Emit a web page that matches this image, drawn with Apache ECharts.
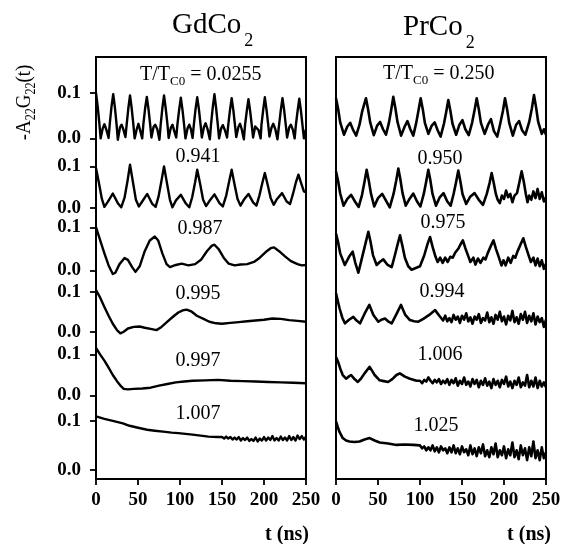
<!DOCTYPE html>
<html><head><meta charset="utf-8">
<script src="https://cdn.jsdelivr.net/npm/echarts@6/dist/echarts.min.js"></script>
<style>html,body{margin:0;padding:0;background:#fff}#c{width:569px;height:544px}</style>
</head><body><div id="c"></div>
<script>
// ---------------- data ----------------
const xTicks = [0, 50, 100, 150, 200, 250];
const yTickLabels = ['0.0', '0.1'];
const gdLabels = ['0.0255', '0.941', '0.987', '0.995', '0.997', '1.007'];
const prLabels = ['0.250', '0.950', '0.975', '0.994', '1.006', '1.025'];

// GdCo2 curves: [t (ns), -A22G22(t)]
const gd0255 = [[0,0.1],[2,0.07],[4,0.033],[5.5,0.0],[8,0.022],[10,0.031],[12.5,0.018],[15,0.001],[16.5,0.034],[18.5,0.07],
[20.5,0.097],[22.5,0.068],[24.5,0.03],[26,-0.003],[28.5,0.024],[30.5,0.03],[32.5,0.02],[35,0.003],[36.5,0.03],[38.5,0.066],
[40.5,0.094],[42.5,0.066],[44.5,0.03],[46,0.0],[48.5,0.02],[50.5,0.032],[52.5,0.018],[55,0.0],[56.5,0.033],[58.5,0.066],
[60.5,0.091],[62.5,0.064],[64.5,0.03],[66,0.002],[68.5,0.025],[70.5,0.03],[73,0.02],[75.5,-0.003],[77,0.03],[79,0.066],
[81,0.094],[83,0.066],[85,0.032],[86.5,0.001],[89,0.023],[91,0.03],[93,0.017],[95.5,0.002],[97,0.032],[99,0.063],
[101,0.089],[103,0.062],[105,0.028],[106.5,0.0],[109,0.022],[111,0.03],[113,0.02],[115,0.001],[116.5,0.03],[118.5,0.064],
[120.5,0.09],[122.5,0.064],[124.5,0.03],[126,0.002],[128.5,0.025],[130.5,0.033],[133,0.019],[135.5,-0.002],[137,0.032],[139,0.068],
[141,0.097],[143,0.066],[145,0.03],[146.5,0.0],[149,0.022],[151,0.029],[153.5,0.018],[156,0.002],[157.5,0.03],[159.5,0.062],
[161.5,0.088],[163.5,0.062],[165.5,0.028],[167,0.003],[169.5,0.025],[171.5,0.032],[173.5,0.02],[176,-0.002],[177.5,0.03],[179.5,0.06],
[181.5,0.086],[183.5,0.06],[185.5,0.028],[187,0.002],[189.5,0.026],[191.5,0.03],[193.5,0.018],[196,0.0],[197,0.03],[199,0.062],
[201,0.09],[203,0.063],[205,0.03],[206.5,0.004],[209,0.024],[211,0.032],[213.5,0.02],[216,-0.002],[218,0.03],[220,0.062],
[222,0.088],[224,0.062],[226,0.028],[227.5,0.002],[230,0.024],[232,0.03],[234.5,0.018],[236.5,0.0],[238,0.03],[240,0.06],
[242,0.087],[244,0.06],[246,0.026],[247.5,0.0],[250,0.02]];
const gd0941 = [[0,0.096],[3.5,0.06],[7,0.022],[10,0.003],[14,0.015],[20,0.035],[26,0.012],[30,0.002],[34,0.025],[37.5,0.065],
[40.5,0.104],[44,0.062],[47.5,0.02],[51,0.004],[55,0.016],[61,0.034],[67,0.01],[71,0.003],[74.5,0.028],[78,0.066],
[81,0.1],[84.5,0.06],[88,0.02],[91,0.002],[95,0.018],[101,0.032],[107,0.011],[111,0.002],[114.5,0.026],[118,0.062],
[120.5,0.092],[124,0.058],[127.5,0.02],[131,0.005],[135,0.017],[141,0.033],[147,0.012],[151,0.004],[155,0.03],[158.5,0.064],
[161.5,0.092],[165,0.056],[168.5,0.022],[172,0.006],[176,0.02],[181.5,0.034],[187,0.014],[191,0.006],[194.5,0.03],[198,0.06],
[201,0.084],[204.5,0.055],[208,0.024],[211.5,0.008],[215.5,0.022],[221.5,0.036],[227,0.016],[231,0.01],[234.5,0.034],[238,0.062],
[241,0.08],[244.5,0.058],[247.5,0.04],[250,0.038]];
const gd0987 = [[0,0.101],[5,0.07],[10,0.04],[15,0.012],[20,-0.008],[23,-0.005],[28,0.015],[34,0.029],[38,0.025],[43,0.008],
[47,-0.003],[52,0.01],[58,0.045],[64,0.07],[70,0.079],[74,0.07],[79,0.04],[84,0.015],[88,0.008],[95,0.013],[102,0.016],
[110,0.012],[118,0.015],[125,0.025],[132,0.045],[138,0.058],[141,0.06],[146,0.05],[152,0.03],[158,0.016],[165,0.012],
[172,0.014],[180,0.015],[188,0.02],[195,0.03],[202,0.043],[208,0.052],[212,0.054],[218,0.045],[225,0.033],[232,0.022],
[240,0.015],[245,0.012],[250,0.013]];
const gd0995 = [[0,0.104],[5,0.085],[10,0.062],[15,0.04],[20,0.02],[25,0.004],[29,-0.004],[33,0.0],[38,0.008],[45,0.012],
[52,0.013],[58,0.01],[65,0.007],[72,0.004],[78,0.012],[85,0.025],[92,0.038],[98,0.048],[104,0.054],[108,0.055],[114,0.05],
[120,0.04],[128,0.032],[135,0.025],[143,0.021],[150,0.02],[160,0.022],[170,0.024],[180,0.026],[190,0.028],[200,0.03],
[210,0.033],[220,0.032],[230,0.029],[240,0.027],[250,0.025]];
const gd0997 = [[0,0.116],[5,0.1],[10,0.085],[15,0.068],[20,0.05],[25,0.035],[30,0.022],[33,0.016],[38,0.015],[45,0.016],
[55,0.017],[65,0.019],[75,0.024],[85,0.028],[95,0.032],[105,0.034],[115,0.036],[130,0.037],[145,0.038],[160,0.036],
[175,0.035],[190,0.034],[205,0.033],[220,0.032],[235,0.031],[250,0.03]];
const gd1007 = [[0,0.109],[10,0.104],[20,0.1],[32,0.095],[40,0.09],[50,0.086],[61,0.082],[70,0.08],[80,0.078],[90,0.076],
[98,0.075],[115,0.072],[134,0.068],[145,0.067],
[150,0.067],[152.5,0.064],[155,0.068],[157.5,0.064],[160,0.067],[162.5,0.062],[165,0.066],[167.5,0.062],[170,0.067],[172.5,0.06],
[175,0.065],[177.5,0.061],[180,0.066],[182.5,0.059],[185,0.063],[187.5,0.059],[190,0.066],[192.5,0.058],[195,0.064],[197.5,0.06],
[200,0.067],[202.5,0.06],[205,0.066],[207.5,0.061],[210,0.069],[212.5,0.06],[215,0.065],[217.5,0.06],[220,0.068],[222.5,0.061],
[225,0.066],[227.5,0.06],[230,0.069],[232.5,0.061],[235,0.067],[237.5,0.06],[240,0.07],[242.5,0.063],[245,0.069],[247.5,0.062],[250,0.068]];

// PrCo2 curves
const pr0250 = [[0,0.088],[2.5,0.065],[5,0.035],[9.5,0.008],[13.5,0.026],[17,0.034],[20.5,0.018],[24,0.006],[28,0.03],[31,0.058],
[35.7,0.088],[38.2,0.064],[40.7,0.035],[45,0.007],[49,0.028],[52.5,0.036],[56,0.02],[59.5,0.008],[63,0.034],[65.7,0.062],
[68.2,0.091],[70.7,0.066],[73.2,0.036],[77.5,0.006],[81.5,0.025],[85,0.038],[88.5,0.02],[92,0.006],[95.5,0.034],[98.3,0.062],
[100.8,0.088],[103.3,0.064],[105.8,0.034],[110,0.01],[114,0.028],[117.5,0.035],[121,0.018],[124.5,0.004],[128.5,0.032],[131.2,0.058],
[133.7,0.084],[136.2,0.06],[138.7,0.032],[143,0.008],[147,0.03],[150.5,0.04],[154,0.02],[158,0.007],[162,0.034],[165,0.062],
[167.5,0.088],[170,0.064],[172.5,0.034],[177,0.01],[181,0.03],[184.5,0.042],[188,0.016],[192,0.004],[195.5,0.032],[198.7,0.06],
[201.2,0.088],[203.7,0.064],[206.2,0.034],[210.5,0.006],[214.5,0.03],[218,0.038],[221.5,0.018],[225.5,0.008],[230,0.036],[233.2,0.066],
[235.7,0.095],[238.2,0.068],[240.7,0.036],[245,0.01],[247.5,0.02],[250,0.008]];
const pr0950 = [[0,0.088],[2.5,0.065],[5,0.035],[9,0.006],[13.5,0.022],[18,0.032],[22.5,0.016],[27,0.003],[31,0.032],[34,0.064],
[36.5,0.092],[39,0.066],[41.5,0.036],[45.5,0.004],[50,0.024],[55,0.034],[59.5,0.018],[64,0.002],[68.5,0.034],[71.7,0.066],
[74.2,0.095],[76.7,0.068],[79.2,0.036],[83,0.006],[87.5,0.022],[92,0.035],[96.5,0.016],[100.5,0.004],[104.5,0.034],[107.4,0.064],
[109.9,0.092],[112.4,0.066],[114.9,0.034],[119,0.006],[123.5,0.026],[128,0.036],[132.5,0.016],[136.5,0.006],[140,0.034],[143.1,0.064],
[145.6,0.09],[148.1,0.064],[150.6,0.034],[155,0.01],[160,0.028],[165,0.036],[170,0.02],[175,0.008],[179.5,0.034],[182.8,0.06],
[185.3,0.084],[187.8,0.06],[190.3,0.034],[192.5,0.02],[195,0.012],[197.5,0.03],[200,0.022],[202.5,0.042],[205,0.026],[207.5,0.034],
[210,0.014],[212.5,0.03],[215.5,0.036],[218.5,0.064],
[221,0.088],[223.5,0.064],[226,0.034],[228,0.014],[230,0.03],[232.5,0.02],[235,0.04],[237.5,0.024],[240,0.046],[242.5,0.022],
[245,0.038],[247.5,0.016],[250,0.026]];
const pr0975 = [[0,0.086],[2.5,0.066],[5,0.04],[10.5,0.013],[15.5,0.032],[19.8,0.044],[23,0.018],[26.6,-0.005],[31,0.03],[35.5,0.066],
[38.5,0.09],[41,0.068],[44,0.036],[48.4,0.013],[52,0.02],[56.3,0.026],[61,0.014],[66.3,0.008],[70,0.035],[73.5,0.062],
[76.2,0.082],[79,0.058],[82,0.03],[86,0.01],[90,0.002],[95,0.006],[100,0.01],[105,0.035],[109,0.062],
[112,0.078],[115,0.055],[118.5,0.032],[121,0.02],[124,0.03],[127,0.018],[130,0.03],[133,0.02],[136,0.032],[139,0.03],[142,0.042],[146,0.052],[148,0.06],
[151,0.07],[154,0.052],[157,0.036],[160,0.02],[163.5,0.03],[166,0.014],[169,0.028],[172,0.018],[175.5,0.03],[178,0.026],[180.5,0.04],[184.5,0.058],
[187.5,0.07],[190.5,0.05],[194,0.03],[197,0.012],[199.4,0.024],[202,0.012],[205,0.03],[208,0.018],[211,0.034],[213.5,0.03],[216,0.044],[220,0.062],
[223,0.075],[226,0.055],[229.5,0.034],[232,0.02],[235,0.03],[237.5,0.012],[240,0.028],[242.5,0.01],[245,0.024],[247.5,0.004],[250,0.016]];
const pr0994 = [[0,0.096],[2,0.078],[4.3,0.058],[7.5,0.035],[10.7,0.021],[15.5,0.03],[20.6,0.037],[24.5,0.028],[28.6,0.021],[34,0.045],
[39.7,0.067],[44.5,0.042],[50.4,0.025],[54,0.03],[58.3,0.033],[62,0.026],[66.3,0.021],[71.5,0.042],[77.4,0.067],
[82.5,0.042],[88,0.029],[93,0.026],[98,0.025],[104,0.032],[111,0.042],[118,0.054],[123,0.04],
[125,0.036],[127.5,0.028],[130,0.04],[132.5,0.026],[135,0.034],[137.5,0.024],[140,0.042],[142.5,0.03],[145,0.038],[147.5,0.022],
[150,0.04],[152.5,0.03],[155,0.046],[157.5,0.026],[160,0.036],[162.5,0.02],[165,0.038],[167.5,0.03],[170,0.044],[172.5,0.022],
[175,0.034],[177.5,0.028],[180,0.048],[182.5,0.024],[185,0.036],[187.5,0.02],[190,0.042],[192.5,0.03],[195,0.05],[197.5,0.026],
[200,0.038],[202.5,0.018],[205,0.04],[207.5,0.028],[210,0.052],[212.5,0.024],[215,0.036],[217.5,0.02],[220,0.044],[222.5,0.03],
[225,0.05],[227.5,0.022],[230,0.04],[232.5,0.026],[235,0.046],[237.5,0.018],[240,0.038],[242.5,0.024],[245,0.034],[247.5,0.012],[250,0.03]];
const pr1006 = [[0,0.094],[2.5,0.082],[5,0.066],[8,0.05],[12,0.041],[15,0.046],[18,0.05],[22,0.04],[26,0.033],[30,0.042],
[34,0.054],[40,0.07],[43,0.06],[46,0.05],[52,0.037],[57,0.035],[62,0.033],[67,0.04],[72,0.05],[76,0.054],[82,0.046],
[88,0.041],[96,0.036],
[100,0.036],[102.5,0.03],[105,0.038],[107.5,0.034],[110,0.044],[112.5,0.036],[115,0.03],[117.5,0.038],[120,0.032],[122.5,0.04],
[125,0.028],[127.5,0.036],[130,0.03],[132.5,0.04],[135,0.026],[137.5,0.038],[140,0.03],[142.5,0.042],[145,0.024],[147.5,0.036],
[150,0.028],[152.5,0.044],[155,0.026],[157.5,0.034],[160,0.022],[162.5,0.04],[165,0.028],[167.5,0.038],[170,0.02],[172.5,0.036],
[175,0.026],[177.5,0.042],[180,0.024],[182.5,0.034],[185,0.018],[187.5,0.04],[190,0.026],[192.5,0.036],[195,0.02],[197.5,0.038],
[200,0.028],[202.5,0.046],[205,0.022],[207.5,0.034],[210,0.018],[212.5,0.036],[215,0.026],[217.5,0.044],[220,0.02],[222.5,0.032],
[225,0.024],[227.5,0.05],[230,0.02],[232.5,0.036],[235,0.022],[237.5,0.044],[240,0.018],[242.5,0.036],[245,0.022],[247.5,0.032],[250,0.02]];
const pr1025 = [[0,0.099],[2,0.088],[4,0.078],[8,0.065],[12,0.06],[16,0.058],[22,0.057],[28,0.058],[34,0.062],[40,0.065],
[46,0.06],[52,0.056],[62,0.054],[72,0.051],[82,0.052],[92,0.051],
[100,0.05],[102.5,0.044],[105,0.048],[107.5,0.04],[110,0.046],[112.5,0.04],[115,0.05],[117.5,0.038],[120,0.046],[122.5,0.036],
[125,0.048],[127.5,0.04],[130,0.044],[132.5,0.034],[135,0.046],[137.5,0.036],[140,0.05],[142.5,0.034],[145,0.044],[147.5,0.032],
[150,0.048],[152.5,0.036],[155,0.042],[157.5,0.03],[160,0.05],[162.5,0.032],[165,0.044],[167.5,0.028],[170,0.046],[172.5,0.034],
[175,0.052],[177.5,0.028],[180,0.04],[182.5,0.026],[185,0.046],[187.5,0.032],[190,0.054],[192.5,0.026],[195,0.04],[197.5,0.03],
[200,0.048],[202.5,0.024],[205,0.042],[207.5,0.03],[210,0.056],[212.5,0.026],[215,0.04],[217.5,0.022],[220,0.05],[222.5,0.03],
[225,0.044],[227.5,0.02],[230,0.046],[232.5,0.028],[235,0.058],[237.5,0.024],[240,0.04],[242.5,0.02],[245,0.046],[247.5,0.024],[250,0.036]];

// ---------------- layout ----------------
const SERIF = '"Liberation Serif", "DejaVu Serif", serif';
const yMax = 0.98;
const base = [0.791, 0.629, 0.484, 0.342, 0.194, 0.021];   // stacking offsets (axis units)
const gain = [1.06, 0.97, 1.0, 0.93, 0.95, 1.14];           // per-curve vertical scale
const curvesGd = [gd0255, gd0941, gd0987, gd0995, gd0997, gd1007];
const curvesPr = [pr0250, pr0950, pr0975, pr0994, pr1006, pr1025];

function place(data, i) { return data.map(p => [p[0], base[i] + p[1] * gain[i]]); }
const tickVals = [];
base.forEach((b, i) => { tickVals.push(b); tickVals.push(b + 0.1 * gain[i]); });
function tickLabel(v) {
  let best = 0, bd = 1e9;
  tickVals.forEach((t, j) => { const d = Math.abs(t - v); if (d < bd) { bd = d; best = j; } });
  return yTickLabels[best % 2];
}

const ctx = document.createElement('canvas').getContext('2d');
function tw(text, size, weight) { ctx.font = (weight || 'normal') + ' ' + size + 'px ' + SERIF; return ctx.measureText(text).width; }
function txt(x, y, text, size, weight, align) {
  return { type: 'text', x: x, y: y, silent: true, z: 10,
    style: { text: text, fontSize: size, fontFamily: SERIF, fontWeight: weight || 'normal', fill: '#000',
      align: align || 'center', verticalAlign: 'middle', textAlign: align || 'center', textVerticalAlign: 'middle' } };
}

const grids = [
  { left: 96, top: 57, width: 210, height: 422 },
  { left: 336, top: 57, width: 210, height: 422 }
].map(g => Object.assign(g, { show: true, borderColor: '#000', borderWidth: 2, backgroundColor: 'transparent', containLabel: false }));

function xAx(gi) {
  return { type: 'value', gridIndex: gi, min: 0, max: 250, interval: 50,
    axisLine: { lineStyle: { color: '#000', width: 2 } },
    axisTick: { inside: false, length: 6, lineStyle: { color: '#000', width: 1.8 } },
    axisLabel: { color: '#000', fontSize: 19, fontWeight: 'bold', fontFamily: SERIF, margin: 12,
      customValues: xTicks, formatter: v => String(v) },
    splitLine: { show: false } };
}
const yAxes = [
  { type: 'value', gridIndex: 0, min: 0, max: yMax,
    axisLine: { show: true, lineStyle: { color: '#000', width: 2 } },
    axisTick: { show: true, length: 6, customValues: tickVals, lineStyle: { color: '#000', width: 1.8 } },
    axisLabel: { show: true, customValues: tickVals, formatter: tickLabel, color: '#000', fontSize: 19,
      fontWeight: 'bold', fontFamily: SERIF, margin: 15 },
    splitLine: { show: false } },
  { type: 'value', gridIndex: 1, min: 0, max: yMax,
    axisLine: { show: true, lineStyle: { color: '#000', width: 2 } },
    axisTick: { show: false }, axisLabel: { show: false }, splitLine: { show: false } }
];

const series = [];
curvesGd.forEach((c, i) => series.push({ type: 'line', xAxisIndex: 0, yAxisIndex: 0, data: place(c, i),
  showSymbol: false, silent: true, lineStyle: { color: '#000', width: 2.4, join: 'round' }, animation: false }));
curvesPr.forEach((c, i) => series.push({ type: 'line', xAxisIndex: 1, yAxisIndex: 1, data: place(c, i),
  showSymbol: false, silent: true, lineStyle: { color: '#000', width: 2.6, join: 'round' }, animation: false }));

// ---------------- texts ----------------
const g = [];
g.push(txt(172, 25, 'GdCo', 29, 'normal', 'left'));
g.push(txt(172 + tw('GdCo', 29) + 3, 41, '2', 18, 'normal', 'left'));
g.push(txt(403, 27, 'PrCo', 29, 'normal', 'left'));
g.push(txt(403 + tw('PrCo', 29) + 3, 43, '2', 18, 'normal', 'left'));
function ttLabel(x0, y0, val) {
  const a = 'T/T', b = 'C0', c = ' = ' + val;
  const wa = tw(a, 20), wb = tw(b, 13);
  g.push(txt(x0, y0, a, 20, 'normal', 'left'));
  g.push(txt(x0 + wa, y0 + 7, b, 13, 'normal', 'left'));
  g.push(txt(x0 + wa + wb, y0, c, 20, 'normal', 'left'));
}
ttLabel(140, 75, gdLabels[0]);
ttLabel(383, 73.5, prLabels[0]);
const gdPos = [null, [198, 157], [200, 229], [198, 294], [198, 361], [198, 414]];
const prPos = [null, [440, 159], [443, 223], [442, 292], [440, 355], [436, 426]];
for (let i = 1; i < 6; i++) {
  g.push(txt(gdPos[i][0], gdPos[i][1], gdLabels[i], 20));
  g.push(txt(prPos[i][0], prPos[i][1], prLabels[i], 20));
}
g.push(txt(309, 535, 't (ns)', 20, 'bold', 'right'));
g.push(txt(551, 535, 't (ns)', 20, 'bold', 'right'));
(function () {
  const parts = [['-A', 22, 0], ['22', 14, 7], ['G', 22, 0], ['22', 14, 7], ['(t)', 22, 0]];
  let L = 0; parts.forEach(p => L += tw(p[0], p[1]));
  let x = -L / 2; const ch = [];
  parts.forEach(p => { ch.push(txt(x, p[2], p[0], p[1], 'normal', 'left')); x += tw(p[0], p[1]); });
  g.push({ type: 'group', x: 24, y: 102.5, rotation: Math.PI / 2, scaleX: 0.86, scaleY: 1, children: ch });
})();

const chart = echarts.init(document.getElementById('c'), null, { renderer: 'canvas' });
chart.setOption({
  animation: false,
  backgroundColor: '#fff',
  grid: grids,
  xAxis: [xAx(0), xAx(1)],
  yAxis: yAxes,
  series: series,
  graphic: g
});
</script></body></html>
